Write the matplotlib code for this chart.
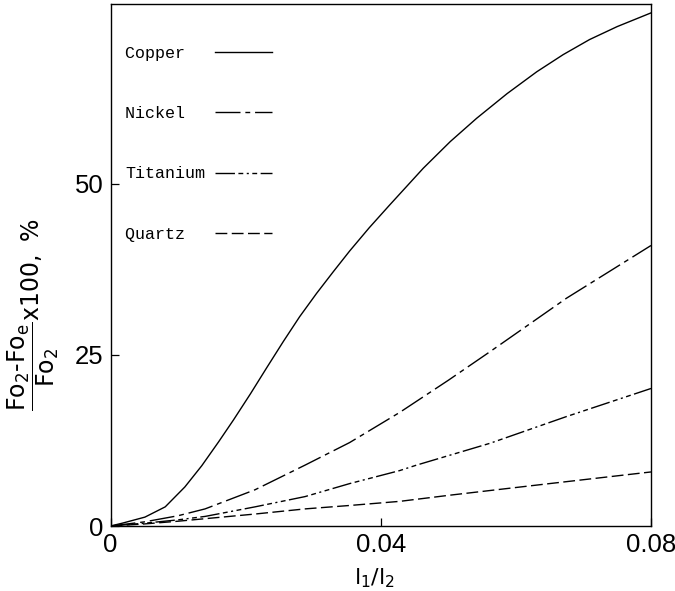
import matplotlib
matplotlib.use("Agg")
import matplotlib.pyplot as plt

# ---- data ----
copper_x = [0, 0.0017, 0.0051, 0.0081, 0.011, 0.0135, 0.016, 0.0182, 0.0207, 0.0231,
            0.0256, 0.028, 0.0305, 0.033, 0.0354, 0.0383, 0.0413, 0.0438, 0.0463, 0.0503,
            0.0542, 0.0587, 0.0631, 0.067, 0.0709, 0.075, 0.08]
copper_y = [0, 0.4, 1.3, 2.8, 5.7, 8.8, 12.3, 15.5, 19.3, 23.1,
            27.0, 30.6, 34.0, 37.2, 40.2, 43.6, 46.9, 49.6, 52.3, 56.2,
            59.6, 63.2, 66.4, 68.9, 71.1, 73.0, 75.0]

nickel_x = [0, 0.005, 0.01, 0.014, 0.0214, 0.0288, 0.0354, 0.0428, 0.05, 0.0562, 0.0675, 0.08]
nickel_y = [0, 0.6, 1.5, 2.5, 5.3, 8.9, 12.2, 16.6, 21.3, 25.5, 33.3, 41.0]

titanium_x = [0, 0.005, 0.01, 0.014, 0.0214, 0.0288, 0.0354, 0.0428, 0.0453, 0.0562, 0.0675, 0.08]
titanium_y = [0, 0.4, 0.9, 1.4, 2.8, 4.3, 6.2, 8.1, 8.9, 12.1, 16.0, 20.1]

quartz_x = [0, 0.005, 0.01, 0.0214, 0.0288, 0.0354, 0.0428, 0.0502, 0.065, 0.08]
quartz_y = [0, 0.3, 0.7, 1.75, 2.5, 3.0, 3.6, 4.5, 6.2, 7.9]

labels = ["Copper", "Nickel", "Titanium", "Quartz"]
x_ticks = [0, 0.04, 0.08]
x_tick_labels = ["0", "0.04", "0.08"]
y_ticks = [0, 25, 50]
y_tick_labels = ["0", "25", "50"]

plt.rcParams["mathtext.fontset"] = "dejavusans"

fig = plt.figure(figsize=(6.75, 5.91), dpi=100)
ax = fig.add_axes([110.5 / 675, 65 / 591, 540.5 / 675, 522 / 591])

series = [(copper_x, copper_y), (nickel_x, nickel_y), (titanium_x, titanium_y), (quartz_x, quartz_y)]
dash_styles = [None, (18, 3.5, 3.5, 3.5), (14, 2.5, 3.5, 2.5, 1.5, 2.5, 3.5, 2.5), (8.5, 3.2)]
width = max(len(s) for s in labels)
for (xs, ys), lab, ds in zip(series, labels, dash_styles):
    line, = ax.plot(xs, ys, color="black", lw=1.0, label=lab.ljust(width))
    if ds is not None:
        line.set_dashes(ds)

ax.set_xlim(0, 0.08)
ax.set_ylim(0, 76.3)

tick_font = {"family": ["Liberation Sans", "DejaVu Sans"], "size": 18.5}
ax.set_xticks(x_ticks)
ax.set_xticklabels(x_tick_labels, fontdict=tick_font)
ax.set_yticks(y_ticks)
ax.set_yticklabels(y_tick_labels, fontdict=tick_font)
ax.tick_params(direction="in", length=6, width=0.9, pad=5)

for sp in ax.spines.values():
    sp.set_linewidth(1.0)

ax.set_xlabel(r"$\mathsf{l_1/l_2}$", fontsize=16)
ax.xaxis.set_label_coords(0.488, -0.078)

ax.set_ylabel("$\\dfrac{\\mathsf{Fo_2\u2010Fo_e}}{\\mathsf{Fo_2}}\\mathsf{x100,\\ \\%}$", fontsize=17,
              rotation=90, ha="center", va="center")
ax.yaxis.set_label_coords(-0.143, 0.405)

leg = ax.legend(loc="upper left", bbox_to_anchor=(0.027, 0.92), frameon=False,
                markerfirst=False, handlelength=3.4, handletextpad=0.6,
                labelspacing=2.72, borderaxespad=0, borderpad=0,
                prop={"family": ["Liberation Mono", "DejaVu Sans Mono"], "size": 12})

fig.savefig("out.png", dpi=100)
